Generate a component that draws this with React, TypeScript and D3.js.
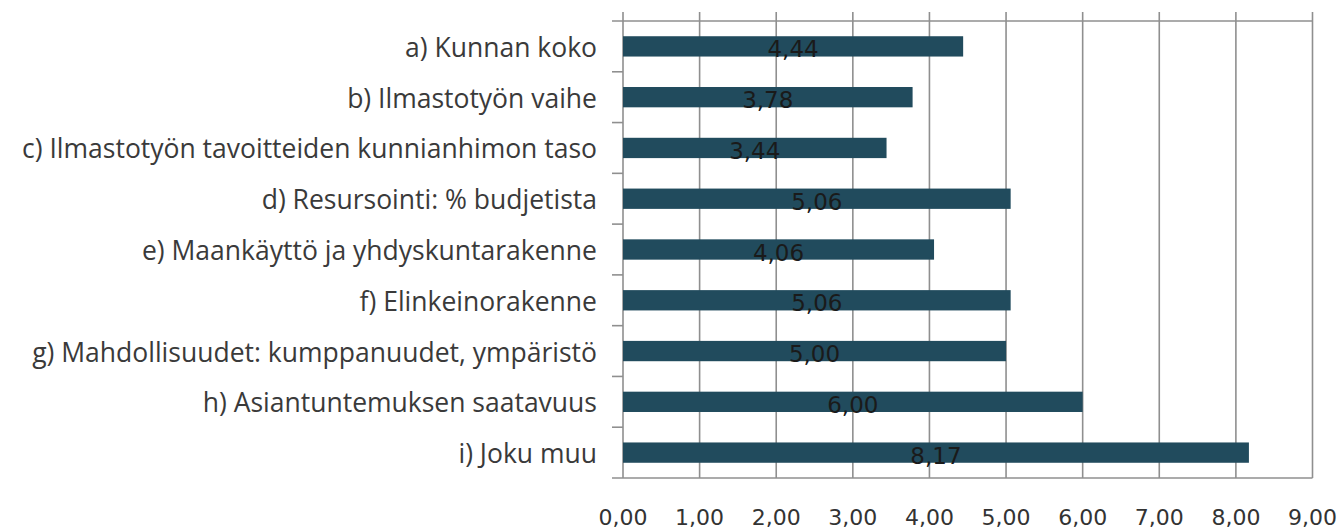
import React from "react";
import * as d3 from "d3";

const categories = [
  "a) Kunnan koko",
  "b) Ilmastotyön vaihe",
  "c) Ilmastotyön tavoitteiden kunnianhimon taso",
  "d) Resursointi: % budjetista",
  "e) Maankäyttö ja yhdyskuntarakenne",
  "f) Elinkeinorakenne",
  "g) Mahdollisuudet: kumppanuudet, ympäristö",
  "h) Asiantuntemuksen saatavuus",
  "i) Joku muu",
];
const values = [4.44, 3.78, 3.44, 5.06, 4.06, 5.06, 5.0, 6.0, 8.17];
const valueLabels = ["4,44", "3,78", "3,44", "5,06", "4,06", "5,06", "5,00", "6,00", "8,17"];
const ticks = [0, 1, 2, 3, 4, 5, 6, 7, 8, 9];
const tickLabels = ["0,00", "1,00", "2,00", "3,00", "4,00", "5,00", "6,00", "7,00", "8,00", "9,00"];

export default function App() {
  const W = 1344, H = 531;
  const x = d3.scaleLinear().domain([0, 9]).range([623, 1312.5]);
  const y = d3.scaleBand<string>().domain(categories).range([21, 478]).paddingInner(0.6).paddingOuter(0.3);
  const yb = d3.scaleLinear().domain([0, categories.length]).range([21, 478]);
  const grid = "#8f8f8f";
  const bar = "#214b5d";
  return (
    <svg width={W} height={H} style={{ position: "absolute", left: 0, top: 0, background: "#fff" }}>
      {ticks.map((t) => (
        <line key={"g" + t} x1={x(t)} x2={x(t)} y1={12} y2={478} stroke={grid} strokeWidth={1.6} />
      ))}
      <line x1={612} x2={x(9)} y1={21} y2={21} stroke={grid} strokeWidth={1.6} />
      <line x1={612} x2={x(9)} y1={478} y2={478} stroke={grid} strokeWidth={1.6} />
      {d3.range(1, categories.length).map((k) => (
        <line key={"t" + k} x1={612} x2={x(0)} y1={yb(k)} y2={yb(k)} stroke={grid} strokeWidth={1.6} />
      ))}
      {categories.map((c, i) => {
        const cy = y(c)! + y.bandwidth() / 2;
        return (
          <g key={c}>
            <rect x={x(0)} y={y(c)!} width={x(values[i]) - x(0)} height={y.bandwidth()} fill={bar} />
            <text
              x={x(values[i] / 2)}
              y={cy + 11}
              textAnchor="middle"
              fontFamily="DejaVu Sans"
              fontSize={23}
              fill="#1a1a1a"
            >
              {valueLabels[i]}
            </text>
            <text
              x={597}
              y={cy + 10.5}
              textAnchor="end"
              fontFamily="Open Sans"
              fontSize={26.5}
              fill="#3a3a3a"
            >
              {c}
            </text>
          </g>
        );
      })}
      {ticks.map((t, i) => (
        <text
          key={"l" + t}
          x={x(t)}
          y={525}
          textAnchor="middle"
          fontFamily="DejaVu Sans"
          fontSize={22}
          fill="#333"
        >
          {tickLabels[i]}
        </text>
      ))}
    </svg>
  );
}
